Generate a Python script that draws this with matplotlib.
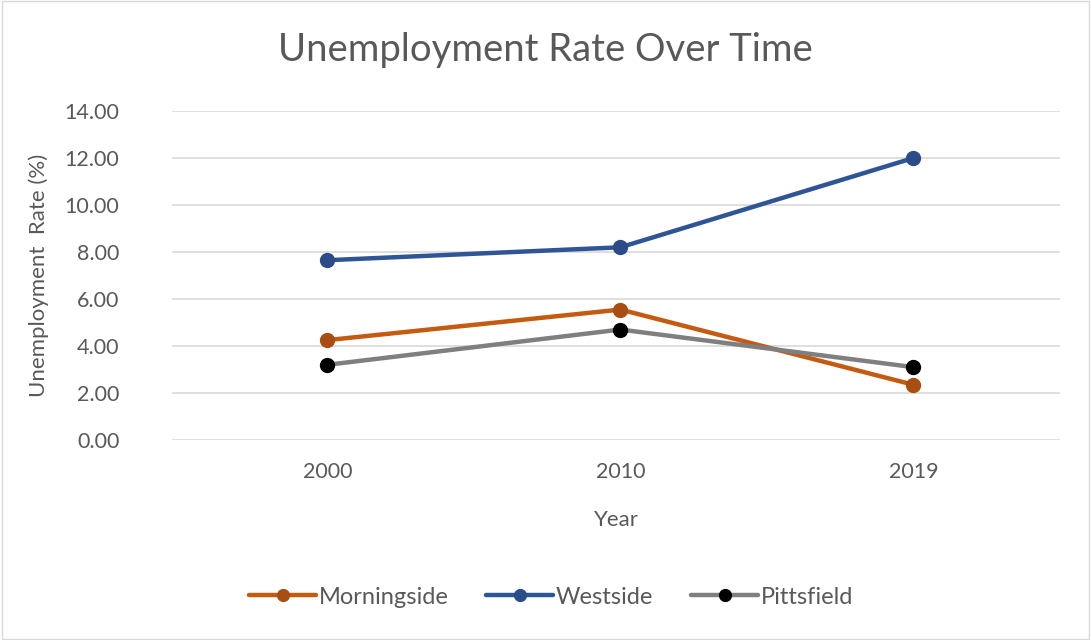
import numpy as np
import matplotlib
matplotlib.use("Agg")
import matplotlib.pyplot as plt

years = ["2000", "2010", "2019"]
morningside = [4.25, 5.55, 2.35]
westside = [7.65, 8.2, 12.0]
pittsfield = [3.2, 4.7, 3.1]

series = [
    ("Morningside", morningside, "#C55A11", "#A84E14"),
    ("Westside", westside, "#2F5597", "#2B4C88"),
    ("Pittsfield", pittsfield, "#7F7F7F", "#000000"),
]

plt.rcParams["font.family"] = ["Lato", "DejaVu Sans"]
text_color = "#595959"

fig = plt.figure(figsize=(10.91, 6.40), dpi=100)
ax = fig.add_axes([0.1577, 0.3125, 0.8139, 0.5141])

x = np.arange(len(years))
for name, vals, color, mcolor in series:
    ax.plot(x, vals, color=color, lw=3.2, marker="o", ms=10,
            markerfacecolor=mcolor, markeredgecolor=mcolor,
            label=name, solid_capstyle="round", zorder=3)

ax.set_xlim(-0.53, 2.5)
ax.set_ylim(0, 14)
ax.set_yticks(np.arange(0, 14.01, 2))
ax.set_yticklabels([f"{v:.2f}" for v in np.arange(0, 14.01, 2)])
ax.set_xticks(x)
ax.set_xticklabels(years)
ax.yaxis.grid(True, color="#D9D9D9", lw=1.2)
ax.set_axisbelow(True)
for s in ax.spines.values():
    s.set_visible(False)
ax.tick_params(length=0, labelsize=15.5, labelcolor=text_color)
ax.tick_params(axis="x", pad=16)
ax.tick_params(axis="y", pad=38)

ax.set_xlabel("Year", fontsize=16, color=text_color, labelpad=20)
ax.set_ylabel("Unemployment  Rate (%)", fontsize=16, color=text_color, labelpad=11)
fig.text(0.5, 0.922, "Unemployment Rate Over Time", ha="center", va="center",
         fontsize=27.5, color=text_color)

leg = fig.legend(loc="center", bbox_to_anchor=(0.505, 0.067), ncol=3, frameon=False,
                 fontsize=17, handlelength=2.85, columnspacing=1.6, handletextpad=0.1,
                 markerscale=0.85)
for t in leg.get_texts():
    t.set_color(text_color)

border = plt.Rectangle((0.002, 0.002), 0.996, 0.996, transform=fig.transFigure,
                       fill=False, edgecolor="#D9D9D9", lw=1)
fig.patches.append(border)

fig.savefig("out.png", dpi=100)
